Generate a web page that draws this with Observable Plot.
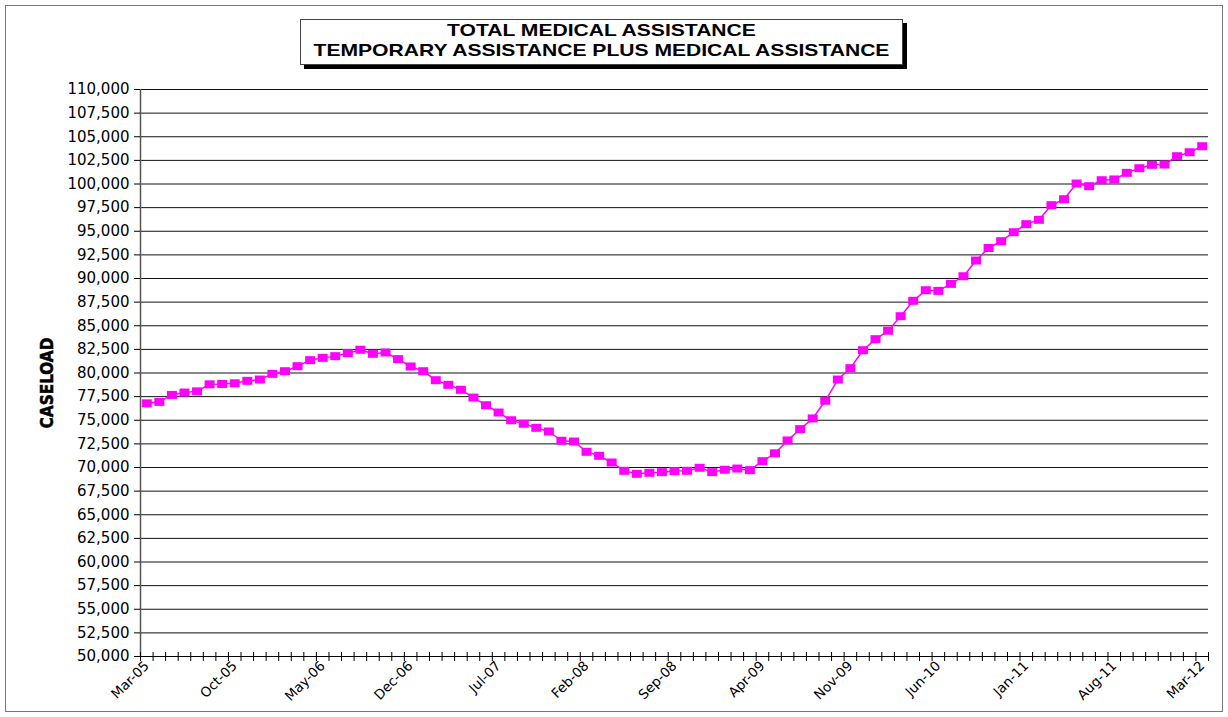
<!DOCTYPE html>
<html><head><meta charset="utf-8">
<script src="https://cdn.jsdelivr.net/npm/d3@7"></script>
<script src="https://cdn.jsdelivr.net/npm/@observablehq/plot@0.6"></script>
<style>
body{margin:0;background:#fff;}
#wrap{position:relative;width:1228px;height:717px;overflow:hidden;}
#border{position:absolute;left:5px;top:5px;width:1216px;height:705px;border:1px solid #777;}
#plot{position:absolute;left:0;top:0;}
#title{position:absolute;left:300px;top:19px;width:601px;height:43px;border:1px solid #444;background:#fff;box-shadow:4px 4px 0 #000;
  font-family:"Liberation Sans",Arial,sans-serif;font-weight:bold;font-size:17px;line-height:20px;text-align:center;padding-top:1px;color:#000;}
#title div{transform:scaleX(1.24);transform-origin:center;white-space:nowrap;}
</style></head>
<body>
<div id="wrap">
  <div id="border"></div>
  <div id="plot"></div>
  <div id="title"><div>TOTAL MEDICAL ASSISTANCE</div><div>TEMPORARY ASSISTANCE PLUS MEDICAL ASSISTANCE</div></div>
</div>
<script>
const months = [
 "Mar-05","Apr-05","May-05","Jun-05","Jul-05","Aug-05","Sep-05","Oct-05","Nov-05","Dec-05",
 "Jan-06","Feb-06","Mar-06","Apr-06","May-06","Jun-06","Jul-06","Aug-06","Sep-06","Oct-06","Nov-06","Dec-06",
 "Jan-07","Feb-07","Mar-07","Apr-07","May-07","Jun-07","Jul-07","Aug-07","Sep-07","Oct-07","Nov-07","Dec-07",
 "Jan-08","Feb-08","Mar-08","Apr-08","May-08","Jun-08","Jul-08","Aug-08","Sep-08","Oct-08","Nov-08","Dec-08",
 "Jan-09","Feb-09","Mar-09","Apr-09","May-09","Jun-09","Jul-09","Aug-09","Sep-09","Oct-09","Nov-09","Dec-09",
 "Jan-10","Feb-10","Mar-10","Apr-10","May-10","Jun-10","Jul-10","Aug-10","Sep-10","Oct-10","Nov-10","Dec-10",
 "Jan-11","Feb-11","Mar-11","Apr-11","May-11","Jun-11","Jul-11","Aug-11","Sep-11","Oct-11","Nov-11","Dec-11",
 "Jan-12","Feb-12","Mar-12"
];
const caseload = [
 76790,76940,77680,77930,78060,78800,78840,78910,79170,79310,
 79910,80190,80720,81360,81600,81780,82100,82460,82030,82170,
 81470,80690,80190,79240,78750,78220,77400,76590,75820,75000,
 74630,74200,73810,72830,72750,71660,71240,70530,69650,69330,
 69440,69510,69620,69650,69970,69510,69760,69890,69720,70670,
 71500,72860,74060,75190,77060,79310,80510,82410,83580,84470,
 86010,87640,88760,88690,89430,90240,91900,93230,93950,94900,
 95750,96210,97760,98390,100050,99770,100400,100480,101180,101670,
 102030,102060,102940,103360,104000
];
const labelMonths = ["Mar-05","Oct-05","May-06","Dec-06","Jul-07","Feb-08","Sep-08","Apr-09","Nov-09","Jun-10","Jan-11","Aug-11","Mar-12"];
const yTicks = [50000,52500,55000,57500,60000,62500,65000,67500,70000,72500,75000,77500,80000,82500,85000,87500,90000,92500,95000,97500,100000,102500,105000,107500,110000];

const data = months.map((m, i) => ({i, month: m, value: caseload[i]}));
const labelIdx = labelMonths.map(m => months.indexOf(m));
const boundaries = d3.range(months.length + 1).map(k => k - 0.5);

const rectSymbol = {
  draw(ctx) { ctx.moveTo(-5,-4); ctx.lineTo(5,-4); ctx.lineTo(5,4); ctx.lineTo(-5,4); ctx.closePath(); }
};

const chart = Plot.plot({
  width: 1228, height: 717,
  marginLeft: 140, marginRight: 20, marginTop: 89, marginBottom: 61,
  style: {fontFamily: "DejaVu Sans, sans-serif", background: "transparent", color: "#000"},
  x: {type: "linear", domain: [-0.5, months.length - 0.5], axis: null},
  y: {domain: [50000, 110000], axis: null},
  marks: [
    Plot.ruleY(yTicks, {stroke: "#111", strokeWidth: 1}),
    Plot.ruleX([-0.5], {stroke: "#555", strokeWidth: 1.5}),
    Plot.ruleY([50000], {stroke: "#000", strokeWidth: 1.2}),
    Plot.axisY(yTicks, {anchor: "left", tickSize: 6, tickPadding: 5, tickFormat: d3.format(","), fontSize: 15, label: null, stroke: "#000"}),
    Plot.tickX(boundaries, {x: d => d, stroke: "#000", insetTop: 563, insetBottom: -5}),
    Plot.axisX(labelIdx, {anchor: "bottom", tickSize: 0, tickPadding: 7, tickRotate: -45, tickFormat: i => months[i], fontSize: 13.5, label: null}),
    Plot.text(["CASELOAD"], {frameAnchor: "left", textAnchor: "middle", dx: -93, dy: 10, rotate: -90, fontWeight: "bold", fontSize: 17, fontFamily: "DejaVu Sans Condensed, DejaVu Sans", fill: "#000", stroke: "#000", strokeWidth: 0.5}),
    Plot.line(data, {x: "i", y: "value", stroke: "#FF00FF", strokeWidth: 1.5}),
    Plot.dot(data, {x: "i", y: "value", symbol: rectSymbol, r: 5, fill: "#FF00FF", stroke: "none"})
  ]
});
document.getElementById("plot").appendChild(chart);
</script>
</body></html>
